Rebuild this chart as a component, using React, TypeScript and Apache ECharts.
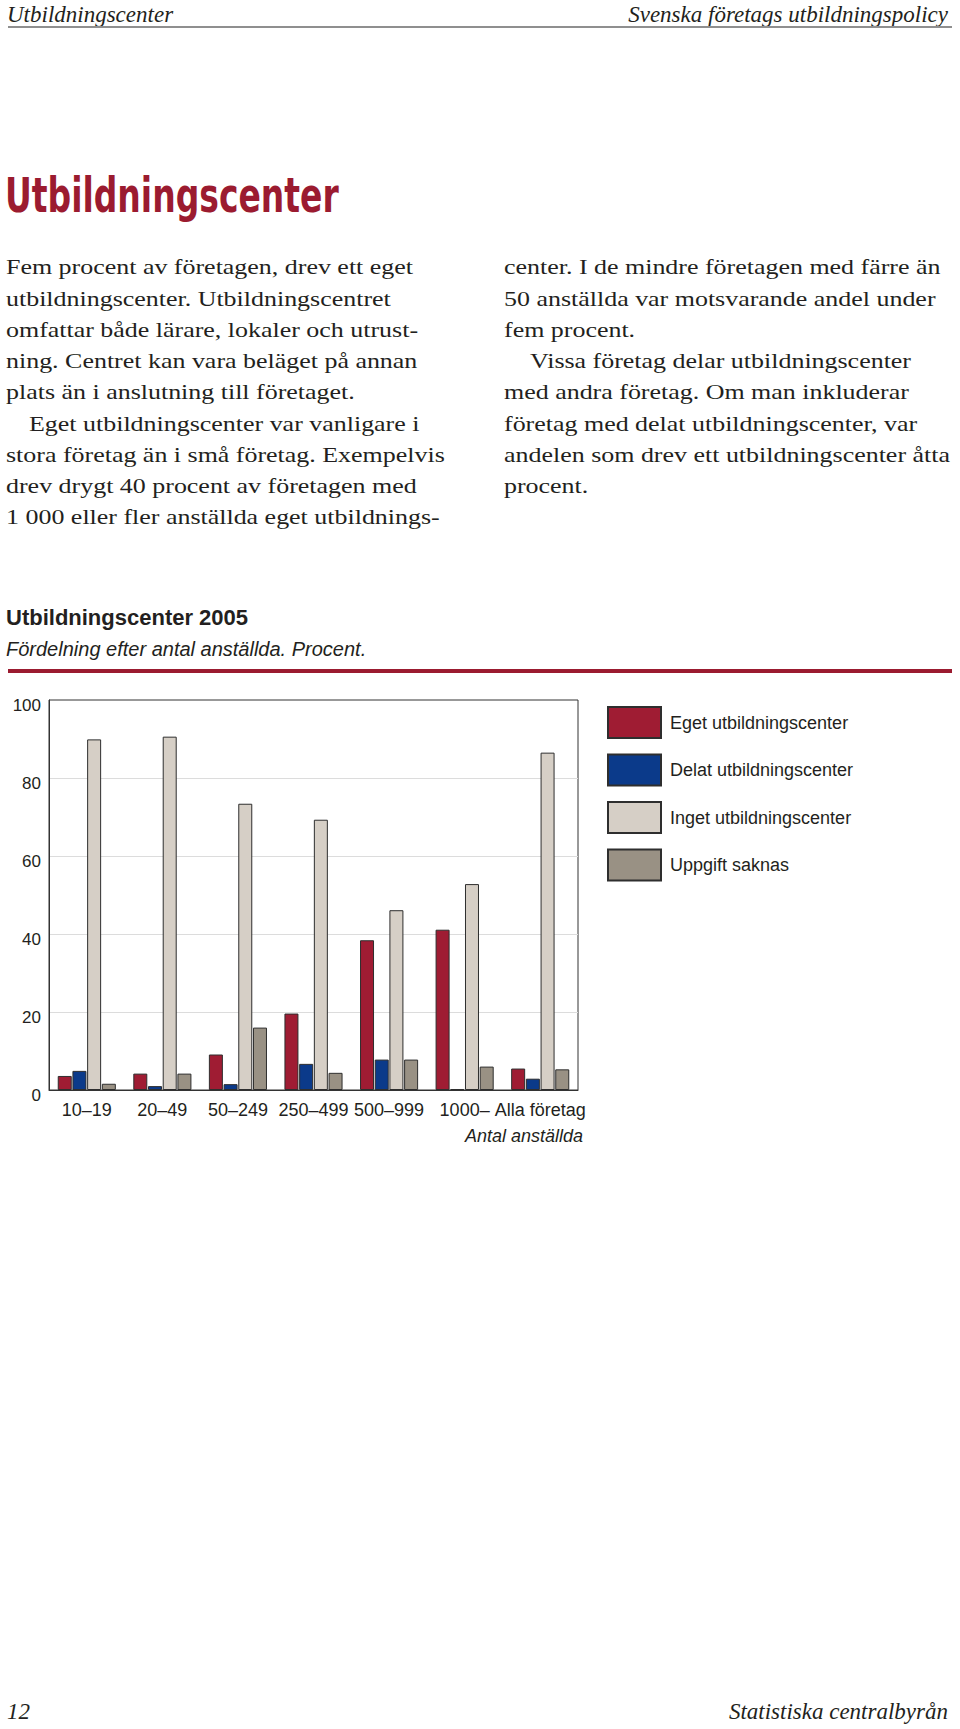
import React, { useEffect, useRef } from "react";
import * as echarts from "echarts";

const categories = ["10–19", "20–49", "50–249", "250–499", "500–999", "1000–", "Alla företag"];
const seriesNames = ["Eget utbildningscenter", "Delat utbildningscenter", "Inget utbildningscenter", "Uppgift saknas"];
const egetValues = [3.6, 4.2, 9.1, 19.6, 38.4, 41.1, 5.5];
const delatValues = [4.9, 1.0, 1.5, 6.7, 7.8, 0.2, 2.9];
const ingetValues = [89.9, 90.6, 73.4, 69.3, 46.1, 52.8, 86.5];
const saknasValues = [1.6, 4.2, 16.0, 4.4, 7.8, 6.0, 5.3];
const seriesColors = ["#9f1c33", "#0b3a8a", "#d6cfc6", "#999184"];

const headerLeft = "Utbildningscenter";
const headerRight = "Svenska företags utbildningspolicy";
const pageTitle = "Utbildningscenter";
const leftColumn = [
  "Fem procent av företagen, drev ett eget",
  "utbildningscenter. Utbildningscentret",
  "omfattar både lärare, lokaler och utrust-",
  "ning. Centret kan vara beläget på annan",
  "plats än i anslutning till företaget.",
  "Eget utbildningscenter var vanligare i",
  "stora företag än i små företag. Exempelvis",
  "drev drygt 40 procent av företagen med",
  "1 000 eller fler anställda eget utbildnings-",
];
const leftIndent = [false, false, false, false, false, true, false, false, false];
const rightColumn = [
  "center. I de mindre företagen med färre än",
  "50 anställda var motsvarande andel under",
  "fem procent.",
  "Vissa företag delar utbildningscenter",
  "med andra företag. Om man inkluderar",
  "företag med delat utbildningscenter, var",
  "andelen som drev ett utbildningscenter åtta",
  "procent.",
];
const rightIndent = [false, false, false, true, false, false, false, false];
const chartTitle = "Utbildningscenter 2005";
const chartSubtitle = "Fördelning efter antal anställda. Procent.";
const xAxisTitle = "Antal anställda";
const footerLeft = "12";
const footerRight = "Statistiska centralbyrån";

const SERIF = "'Liberation Serif', 'Times New Roman', serif";
const SANS = "'Liberation Sans', Arial, Helvetica, sans-serif";
const NARROW = "'Liberation Sans Narrow', 'DejaVu Sans Condensed', 'Liberation Sans', sans-serif";
const INK = "#231f20";
const RED = "#9b1b30";

function measure(text: string, font: string): number {
  const ctx = document.createElement("canvas").getContext("2d");
  if (!ctx) return 0;
  ctx.font = font;
  return ctx.measureText(text).width;
}

function txt(x: number, y: number, text: string, opts: any) {
  return {
    type: "text",
    x,
    y,
    silent: true,
    scaleX: opts.scaleX ?? 1,
    style: {
      text,
      fill: opts.fill ?? INK,
      fontSize: opts.fontSize,
      fontFamily: opts.fontFamily,
      fontStyle: opts.fontStyle ?? "normal",
      fontWeight: opts.fontWeight ?? "normal",
      align: opts.align ?? "left",
      textAlign: opts.align ?? "left",
      verticalAlign: "middle",
      textVerticalAlign: "middle",
    },
  };
}

export default function App() {
  const ref = useRef<HTMLDivElement>(null);

  useEffect(() => {
    document.body.style.margin = "0";
    if (!ref.current) return;
    const chart = echarts.init(ref.current, undefined, { renderer: "svg" });

    const lineStep = 31.25;
    const firstLineY = 267;
    const bodySize = 22;
    const bodyStretch = 1.18;
    const graphics: any[] = [];

    graphics.push(txt(7, 14, headerLeft, { fontSize: 23, fontFamily: SERIF, fontStyle: "italic" }));
    graphics.push(txt(948, 14, headerRight, { fontSize: 23, fontFamily: SERIF, fontStyle: "italic", align: "right" }));
    graphics.push({
      type: "line",
      silent: true,
      shape: { x1: 8, y1: 27, x2: 952, y2: 27 },
      style: { stroke: "#8f8f8f", lineWidth: 2 },
    });

    const titleWidth = measure(pageTitle, `bold 48px ${NARROW}`);
    const titleScale = titleWidth > 0 ? 334 / titleWidth : 0.77;
    graphics.push(
      txt(5, 195, pageTitle, { fontSize: 48, fontFamily: NARROW, fontWeight: "bold", fill: RED, scaleX: titleScale })
    );
    leftColumn.forEach((line, i) => {
      graphics.push(
        txt(leftIndent[i] ? 29 : 6, firstLineY + i * lineStep, line, {
          fontSize: bodySize,
          fontFamily: SERIF,
          scaleX: bodyStretch,
        })
      );
    });
    rightColumn.forEach((line, i) => {
      graphics.push(
        txt(rightIndent[i] ? 530 : 504, firstLineY + i * lineStep, line, {
          fontSize: bodySize,
          fontFamily: SERIF,
          scaleX: bodyStretch,
        })
      );
    });
    graphics.push(txt(6, 617, chartTitle, { fontSize: 22, fontFamily: SANS, fontWeight: "bold" }));
    graphics.push(txt(6, 649, chartSubtitle, { fontSize: 20, fontFamily: SANS, fontStyle: "italic" }));
    graphics.push({
      type: "rect",
      silent: true,
      shape: { x: 8, y: 669, width: 944, height: 4 },
      style: { fill: RED },
    });
    graphics.push(txt(583, 1136, xAxisTitle, { fontSize: 18, fontFamily: SANS, fontStyle: "italic", align: "right" }));
    graphics.push(txt(7, 1711, footerLeft, { fontSize: 23, fontFamily: SERIF, fontStyle: "italic" }));
    graphics.push(txt(948, 1711, footerRight, { fontSize: 23, fontFamily: SERIF, fontStyle: "italic", align: "right" }));

    const valueLists = [egetValues, delatValues, ingetValues, saknasValues];

    chart.setOption({
      animation: false,
      backgroundColor: "#ffffff",
      textStyle: { fontFamily: SANS },
      grid: {
        left: 49,
        top: 700,
        width: 529,
        height: 390,
        show: true,
        borderColor: "#333333",
        borderWidth: 1,
        backgroundColor: "transparent",
      },
      legend: {
        orient: "vertical",
        left: 607,
        top: 706,
        padding: 0,
        itemWidth: 53,
        itemHeight: 31,
        itemGap: 14.5,
        icon: "rect",
        selectedMode: false,
        data: seriesNames,
        textStyle: { fontSize: 18, color: INK, fontFamily: SANS, padding: [0, 0, 0, 4] },
      },
      xAxis: {
        type: "category",
        data: categories,
        axisTick: { show: false },
        axisLine: { show: true, lineStyle: { color: "#333333", width: 1 } },
        axisLabel: { interval: 0, fontSize: 18, color: INK, margin: 11, fontFamily: SANS },
      },
      yAxis: {
        type: "value",
        min: 0,
        max: 100,
        interval: 20,
        axisLine: { show: true, lineStyle: { color: "#333333", width: 1 } },
        axisTick: { show: false },
        axisLabel: {
          fontSize: 17,
          color: INK,
          margin: 8,
          fontFamily: SANS,
          verticalAlign: "top",
          lineHeight: 11,
        },
        splitLine: { show: true, showMinLine: false, showMaxLine: false, lineStyle: { color: "#dcdcdc", width: 1 } },
      },
      series: seriesNames.map((name, i) => ({
        name,
        type: "bar",
        data: valueLists[i],
        barWidth: 14,
        barGap: "5%",
        itemStyle: { color: seriesColors[i], borderColor: "#2e2e2e", borderWidth: 1 },
      })),
      graphic: { elements: graphics },
    });

    return () => chart.dispose();
  }, []);

  return (
    <div
      ref={ref}
      style={{ position: "absolute", left: 0, top: 0, width: 960, height: 1729, background: "#fff" }}
    />
  );
}
